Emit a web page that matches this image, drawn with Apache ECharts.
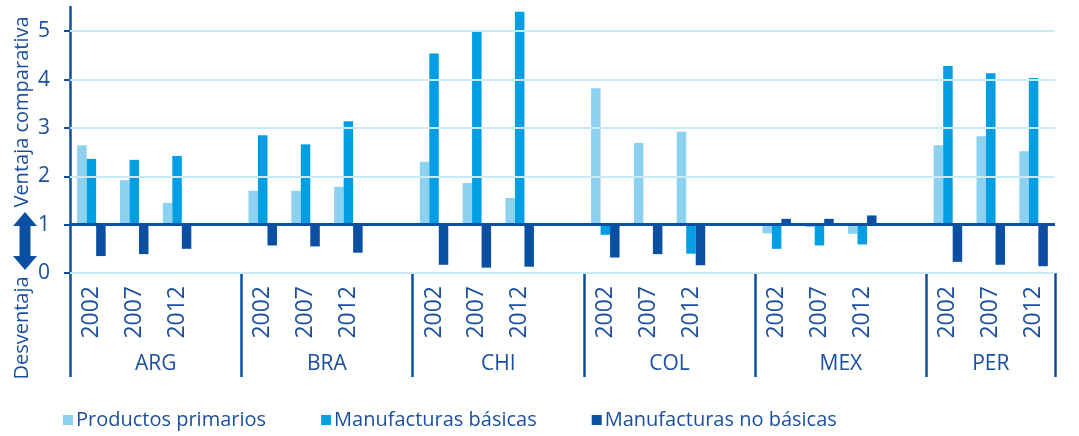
<!DOCTYPE html>
<html>
<head>
<meta charset="utf-8">
<script src="https://cdn.jsdelivr.net/npm/echarts@6/dist/echarts.min.js"></script>
<style>
  html, body { margin: 0; padding: 0; background: #fff; }
  #chart { width: 1079px; height: 436px; }
</style>
</head>
<body>
<div id="chart"></div>
<script>
  // datos (índice de ventaja comparativa, base = 1)
  const countries = ['ARG', 'BRA', 'CHI', 'COL', 'MEX', 'PER']
  const years = ['2002', '2007', '2012']
  const primarios = [2.64, 1.92, 1.45, 1.70, 1.70, 1.78, 2.30, 1.86, 1.55, 3.82, 2.69, 2.92, 0.82, 0.95, 0.81, 2.64, 2.83, 2.52]
  const basicas = [2.36, 2.34, 2.42, 2.85, 2.66, 3.14, 4.54, 4.99, 5.40, 0.79, 1.00, 0.40, 0.50, 0.57, 0.59, 4.28, 4.13, 4.03]
  const noBasicas = [0.35, 0.39, 0.50, 0.57, 0.55, 0.42, 0.17, 0.11, 0.13, 0.32, 0.39, 0.16, 1.12, 1.12, 1.19, 0.23, 0.17, 0.14]
  const yTicks = [0, 1, 2, 3, 4, 5]
  const BASE = 1

  const dark = '#0b4fa2'
  const mid = '#009fe3'
  const light = '#8dd1f1'
  const textColor = '#1a4f9f'
  const gridColor = '#c9e9f7'
  const font = 'Open Sans'

  // categorías: 3 años por país + un hueco entre países
  const cats = []
  const slot = [] // índice de dato para cada categoría (o -1)
  const separators = [0]
  countries.forEach((c, i) => {
    years.forEach((y, j) => { cats.push(y); slot.push(i * 3 + j) })
    if (i < countries.length - 1) { cats.push(''); slot.push(-1) }
    separators.push(cats.length)
  })
  const countryPos = countries.map((c, i) => (separators[i] + separators[i + 1]) / 2)

  const toSeries = arr => slot.map(k => k < 0 ? null : +(arr[k] - BASE).toFixed(3))

  const chart = echarts.init(document.getElementById('chart'))

  const barCommon = {
    type: 'bar',
    barWidth: 9.5,
    barGap: '0%',
    xAxisIndex: 0,
    yAxisIndex: 0
  }

  chart.setOption({
    animation: false,
    textStyle: { fontFamily: font },
    grid: { left: 70, right: 24, top: 7, bottom: 163 },
    legend: {
      bottom: 1,
      left: 58,
      icon: 'rect',
      itemWidth: 10,
      itemHeight: 10,
      itemGap: 55,
      textStyle: { fontSize: 20, color: textColor, fontFamily: font, padding: [0, 0, 0, -2] },
      data: ['Productos primarios', 'Manufacturas básicas', 'Manufacturas no básicas']
    },
    xAxis: [{
      type: 'category',
      data: cats,
      position: 'bottom',
      axisLine: { show: false },
      axisTick: { show: false },
      axisLabel: { interval: 0, rotate: 90, margin: 13, fontSize: 23, color: textColor, fontFamily: font }
    }, {
      type: 'value',
      min: 0,
      max: cats.length,
      position: 'bottom',
      axisLine: { show: false },
      splitLine: { show: false },
      axisTick: { show: true, customValues: separators, length: 104, lineStyle: { color: dark, width: 2.5 } },
      axisLabel: {
        customValues: countryPos,
        margin: 81,
        fontSize: 21,
        color: textColor,
        fontFamily: font,
        formatter: v => countries[countryPos.indexOf(v)] || ''
      }
    }],
    yAxis: {
      type: 'value',
      min: yTicks[0] - BASE,
      max: 5.5 - BASE,
      interval: 1,
      axisLine: { show: true, lineStyle: { color: dark, width: 2.5 } },
      axisTick: { show: true, customValues: yTicks.map(t => t - BASE), length: 6, lineStyle: { color: dark, width: 2 } },
      axisLabel: {
        customValues: yTicks.map(t => t - BASE),
        margin: 20,
        fontSize: 21,
        color: textColor,
        fontFamily: font,
        formatter: v => String(Math.round(v + BASE))
      },
      splitLine: { show: false }
    },
    series: [{
      // líneas de cuadrícula detrás de las barras
      type: 'line',
      z: 1,
      data: cats.map(() => null),
      silent: true,
      markLine: {
        silent: true,
        symbol: 'none',
        label: { show: false },
        lineStyle: { color: gridColor, width: 2, type: 'solid' },
        data: yTicks.filter(t => t !== BASE).map(t => ({ yAxis: t - BASE }))
      }
    }, {
      ...barCommon,
      name: 'Productos primarios',
      itemStyle: { color: light },
      data: toSeries(primarios)
    }, {
      ...barCommon,
      name: 'Manufacturas básicas',
      itemStyle: { color: mid },
      data: toSeries(basicas)
    }, {
      ...barCommon,
      name: 'Manufacturas no básicas',
      itemStyle: { color: dark },
      data: toSeries(noBasicas),
      markLine: {
        silent: true,
        symbol: 'none',
        label: { show: false },
        lineStyle: { color: dark, width: 3, type: 'solid' },
        data: [{ yAxis: 0 }]
      }
    }],
    graphic: [{
      type: 'text',
      x: 22,
      y: 112,
      rotation: Math.PI / 2,
      style: { text: 'Ventaja comparativa', fontSize: 20, fill: textColor, fontFamily: font, align: 'center', verticalAlign: 'middle' }
    }, {
      type: 'text',
      x: 22,
      y: 328,
      rotation: Math.PI / 2,
      style: { text: 'Desventaja', fontSize: 20, fill: textColor, fontFamily: font, align: 'center', verticalAlign: 'middle' }
    }, {
      // flecha doble
      type: 'polygon',
      shape: {
        points: [[25, 212], [37, 226], [30.5, 226], [30.5, 256], [37, 256], [25, 270], [13, 256], [19.5, 256], [19.5, 226], [13, 226]]
      },
      style: { fill: dark }
    }]
  })
</script>
</body>
</html>
